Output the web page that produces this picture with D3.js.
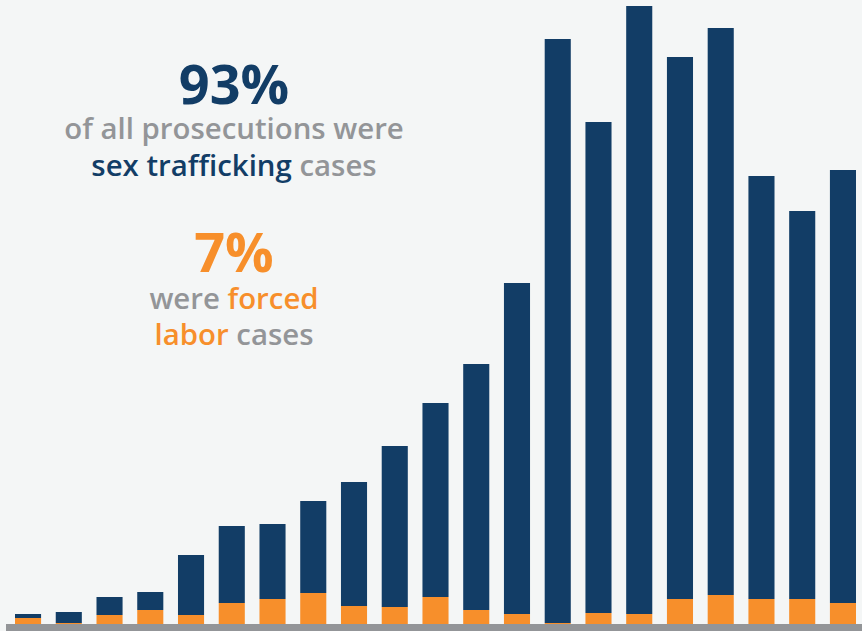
<!DOCTYPE html>
<html>
<head>
<meta charset="utf-8">
<script src="https://cdn.jsdelivr.net/npm/d3@7"></script>
<style>
  html, body { margin: 0; padding: 0; background: #f4f6f6; }
  svg { display: block; }
  text { font-family: "Open Sans", sans-serif; }
</style>
</head>
<body>
<svg id="chart" width="862" height="631"></svg>
<script>
const years = ["2000","2001","2002","2003","2004","2005","2006","2007","2008","2009","2010",
               "2011","2012","2013","2014","2015","2016","2017","2018","2019","2020"];
const forcedLabor    = [6, 1, 9, 14, 9, 21, 25, 31, 18, 17, 27, 14, 10, 1, 11, 10, 25, 29, 25, 25, 21];
const sexTrafficking = [4, 11, 18, 18, 60, 77, 75, 92, 124, 161, 194, 246, 331, 584, 491, 608, 542, 567, 423, 388, 433];
const seriesKeys = ["forced", "sex"];
const seriesColors = {forced: "#f78f2b", sex: "#123d66"};

const W = 862, H = 631;
const baseY = 624;
const svg = d3.select("#chart");

svg.append("rect").attr("width", W).attr("height", H).attr("fill", "#f4f6f6");

const table = years.map((y, i) => ({year: y, forced: forcedLabor[i], sex: sexTrafficking[i]}));
const stacked = d3.stack().keys(seriesKeys)(table);

const x = d3.scaleBand().domain(years).range([15, 856]).paddingInner(0.36).paddingOuter(0);
const y = d3.scaleLinear().domain([0, 618]).range([baseY, 6]);

svg.append("g").selectAll("g").data(stacked).join("g")
  .attr("fill", d => seriesColors[d.key])
  .selectAll("rect").data(d => d).join("rect")
  .attr("x", d => x(d.data.year))
  .attr("width", x.bandwidth())
  .attr("y", d => y(d[1]))
  .attr("height", d => y(d[0]) - y(d[1]));

// baseline
svg.append("rect").attr("x", 6).attr("y", baseY).attr("width", W - 6).attr("height", 7).attr("fill", "#939598");

// annotations
const cx = 234;
const blue = "#123d66", orange = "#f78f2b", gray = "#939598";
function line(yPos, parts, size, weight) {
  const t = svg.append("text").attr("x", cx).attr("y", yPos).attr("text-anchor", "middle")
    .attr("font-size", size).attr("font-weight", weight);
  parts.forEach(p => t.append("tspan").attr("fill", p[1]).text(p[0]));
}
line(104, [["93%", blue]], 54, 700);
line(139, [["of all prosecutions were", gray]], 29.4, 600);
line(176, [["sex trafficking", blue], [" cases", gray]], 29.4, 600);
line(272, [["7%", orange]], 54, 700);
line(309, [["were ", gray], ["forced", orange]], 29.4, 600);
line(345, [["labor", orange], [" cases", gray]], 29.4, 600);
</script>
</body>
</html>
